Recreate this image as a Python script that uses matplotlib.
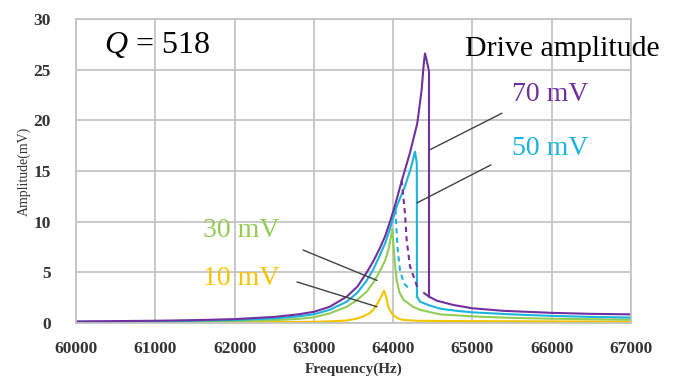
import matplotlib
matplotlib.use("Agg")
import matplotlib.pyplot as plt

# frequency (Hz) / amplitude (mV)
f_70_up = [60000, 61000, 61500, 62000, 62500, 62800, 63000, 63200, 63414, 63550, 63667, 63750,
           63833, 63900, 63960, 64023, 64107, 64212, 64304, 64359, 64385, 64401, 64420, 64440, 64452, 64452]
a_70_up = [0.15, 0.22, 0.28, 0.38, 0.6, 0.85, 1.1, 1.6, 2.6, 3.6, 5.0, 6.1,
           7.4, 8.6, 10.0, 11.6, 14.0, 16.8, 19.7, 23.0, 25.5, 26.6, 26.0, 25.3, 24.8, 2.6]
f_70_low = [64390, 64452, 64550, 64758, 65000, 65390, 66000, 66500, 67000]
a_70_low = [2.95, 2.6, 2.2, 1.78, 1.45, 1.2, 1.0, 0.9, 0.85]
f_70_dash = [64107, 64149, 64170, 64212, 64275, 64310]
a_70_dash = [14.1, 10.8, 8.2, 5.6, 4.2, 3.4]

f_50_up = [60000, 61000, 61500, 62000, 62500, 62800, 63000, 63200, 63414, 63550, 63667, 63750,
           63833, 63900, 63960, 64044, 64149, 64220, 64275, 64298, 64300]
a_50_up = [0.12, 0.17, 0.22, 0.3, 0.45, 0.65, 0.86, 1.3, 2.1, 3.0, 4.2, 5.3,
           6.7, 7.9, 9.3, 11.5, 13.5, 15.2, 16.9, 15.8, 2.6]
f_50_low = [64300, 64340, 64450, 64600, 64800, 65000, 65500, 66000, 66500, 67000]
a_50_low = [2.6, 2.1, 1.75, 1.4, 1.2, 1.05, 0.85, 0.7, 0.6, 0.53]
f_50_dash = [64029, 64040, 64054, 64086, 64136, 64212]
a_50_dash = [11.2, 9.5, 7.5, 5.2, 3.9, 3.3]

f_30 = [60000, 61000, 61500, 62000, 62500, 62800, 63000, 63200, 63414, 63550, 63667, 63750,
        63833, 63900, 63939, 63970, 63990, 64000, 64020, 64045, 64080, 64130, 64250, 64338,
        64590, 65000, 65500, 66000, 67000]
a_30 = [0.08, 0.1, 0.13, 0.18, 0.28, 0.4, 0.56, 0.95, 1.6, 2.3, 3.1, 4.0,
        5.1, 6.2, 7.2, 8.4, 9.3, 8.0, 6.0, 4.2, 3.0, 2.3, 1.6, 1.3,
        0.85, 0.65, 0.5, 0.42, 0.32]

f_10 = [60000, 61000, 62000, 62500, 63000, 63250, 63414, 63550, 63624, 63700, 63750, 63800,
        63850, 63884, 63910, 63938, 63970, 64000, 64060, 64128, 64300, 65000, 67000]
a_10 = [0.03, 0.04, 0.06, 0.08, 0.12, 0.17, 0.25, 0.45, 0.65, 0.95, 1.3, 1.9,
        2.6, 3.2, 2.6, 1.6, 1.1, 0.8, 0.45, 0.3, 0.22, 0.18, 0.13]

x_ticks = [60000, 61000, 62000, 63000, 64000, 65000, 66000, 67000]
y_ticks = [0, 5, 10, 15, 20, 25, 30]

purple = "#7030a0"
cyan = "#1cb4dc"
green = "#92cc55"
yellow = "#f5c400"

plt.rcParams["font.family"] = ["Liberation Serif", "DejaVu Serif"]
plt.rcParams["mathtext.fontset"] = "custom"
plt.rcParams["mathtext.rm"] = "Liberation Serif"
plt.rcParams["mathtext.it"] = "Liberation Serif:italic"

fig = plt.figure(figsize=(6.88, 3.76), dpi=100)
ax = fig.add_axes([0.1105, 0.141, 0.8067, 0.8085])

lw = 1.5
ax.plot(f_10, a_10, color=yellow, lw=lw)
ax.plot(f_30, a_30, color=green, lw=lw)
ax.plot(f_50_up, a_50_up, color=cyan, lw=lw)
ax.plot(f_50_low, a_50_low, color=cyan, lw=lw)
ax.plot(f_50_dash, a_50_dash, color=cyan, lw=lw, ls=(0, (2.5, 2)))
ax.plot(f_70_up, a_70_up, color=purple, lw=lw)
ax.plot(f_70_low, a_70_low, color=purple, lw=lw)
ax.plot(f_70_dash, a_70_dash, color=purple, lw=lw, ls=(0, (2.5, 2)))

ax.set_xlim(60000, 67000)
ax.set_ylim(0, 30)
ax.set_xticks(x_ticks)
ax.set_yticks(y_ticks)
ax.grid(True, color="#c0c0c0", lw=1.2)
ax.set_axisbelow(True)
for s in ax.spines.values():
    s.set_color("#c0c0c0")
    s.set_linewidth(1.2)
ax.tick_params(length=0, labelsize=12.5)
ax.tick_params(axis="x", pad=13)
ax.tick_params(axis="y", pad=18)
for lab in ax.get_xticklabels() + ax.get_yticklabels():
    lab.set_fontweight("bold")
    lab.set_color("#333333")

ax.set_xlabel("Frequency(Hz)", fontsize=11, fontweight="bold", color="#333333", labelpad=4)
ax.set_ylabel("Amplitude(mV)", fontsize=10, color="#333333", labelpad=2)

ax.text(60350, 27.4, r"$Q$ = 518", fontsize=23, va="center", ha="left")
ax.text(64900, 27.0, "Drive amplitude", fontsize=21.5, va="center", ha="left", clip_on=False)

lab_kw = dict(fontsize=20, va="center", ha="center",
              arrowprops=dict(arrowstyle="-", color="#404040", lw=1.0, shrinkA=0, shrinkB=0))
ax.annotate("", xy=(64464, 17.1), xytext=(65372, 20.7), **lab_kw)
ax.text(65977, 22.5, "70 mV", color=purple, fontsize=20, va="center", ha="center")
ax.annotate("", xy=(64300, 11.85), xytext=(65233, 15.6), **lab_kw)
ax.text(65977, 17.2, "50 mV", color=cyan, fontsize=20, va="center", ha="center")
ax.annotate("", xy=(63796, 4.2), xytext=(62863, 7.2), **lab_kw)
ax.text(62081, 9.1, "30 mV", color=green, fontsize=20, va="center", ha="center")
ax.annotate("", xy=(63796, 1.6), xytext=(62787, 4.05), **lab_kw)
ax.text(62081, 4.4, "10 mV", color=yellow, fontsize=20, va="center", ha="center")

fig.savefig("out.png", dpi=100)
